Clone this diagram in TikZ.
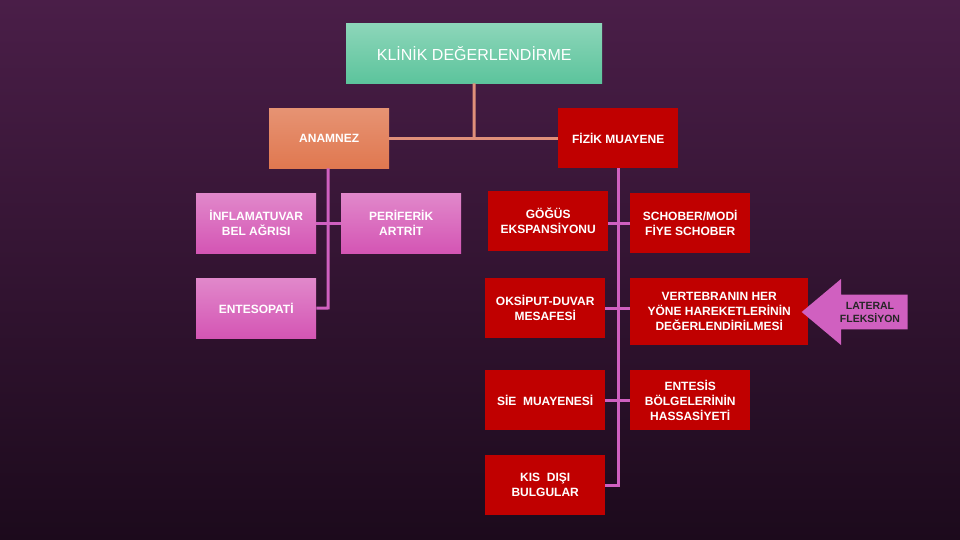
\documentclass[tikz,border=0pt]{standalone}
\usepackage{fontspec}
\setmainfont{Liberation Sans}
\usetikzlibrary{shapes.arrows}
\definecolor{bgA}{HTML}{4A1E48}
\definecolor{bgB}{HTML}{1C0A1C}
\definecolor{teal}{HTML}{5CC49C}
\definecolor{orng}{HTML}{E07850}
\definecolor{rd}{HTML}{C00000}
\definecolor{pk}{HTML}{D455B4}
\definecolor{ln1}{HTML}{E0907A}
\definecolor{ln2}{HTML}{D060C0}
\begin{document}
\begin{tikzpicture}[x=1pt,y=-1pt,
 bx/.style={anchor=north west,minimum width=120pt,minimum height=60pt,inner sep=2pt,align=center,text=white,font=\bfseries\fontsize{12}{15}\selectfont},
 redb/.style={bx,fill=rd},
 pinkb/.style={bx,top color=pk!70!white,bottom color=pk},
 l1/.style={draw=ln1,line width=3pt},
 l2/.style={draw=ln2,line width=3pt}]
\shade[top color=bgA,bottom color=bgB] (0,0) rectangle (960,540);
\useasboundingbox (0,0) rectangle (960,540);
\node[bx,minimum width=256pt,top color=teal!70!white,bottom color=teal,font=\fontsize{16}{18}\selectfont] (t) at (346,23) {KLİNİK DEĞERLENDİRME};
\node[bx,top color=orng!80!white,bottom color=orng] (an) at (269,108) {ANAMNEZ};
\node[redb] (fm) at (558,108) {FİZİK MUAYENE};
\node[pinkb] (inf) at (196,193) {İNFLAMATUVAR\\BEL AĞRISI};
\node[pinkb] (per) at (341,193) {PERİFERİK\\ARTRİT};
\node[pinkb] (ent) at (196,278) {ENTESOPATİ};
\node[redb] (gog) at (488,191) {GÖĞÜS\\EKSPANSİYONU};
\node[redb] (sch) at (630,193) {SCHOBER/MODİ\\FİYE SCHOBER};
\node[redb] (oks) at (485,278) {OKSİPUT-DUVAR\\MESAFESİ};
\node[redb,minimum width=178pt,minimum height=67pt] (ver) at (630,278) {VERTEBRANIN HER\\YÖNE HAREKETLERİNİN\\DEĞERLENDİRİLMESİ};
\node[redb] (sie) at (485,370) {SİE\ \ MUAYENESİ};
\node[redb] (ents) at (630,370) {ENTESİS\\BÖLGELERİNİN\\HASSASİYETİ};
\node[redb] (kis) at (485,455) {KIS\ \ DIŞI\\BULGULAR};
\coordinate (j1) at (474,138);
\draw[l1] (t.south) -- (j1);
\draw[l1] (an.east) -- (fm.west);
\coordinate (a1) at (328,168); \coordinate (a2) at (328,308);
\draw[l2] (an.south -| a1) -- (a2) -- (ent.east);
\draw[l2] (inf.east) -- (per.west);
\coordinate (f2) at (618,485);
\draw[l2] (fm.south -| f2) -- (f2) -- (kis.east |- f2);
\draw[l2] (sch.west) -- (sch.west -| gog.east);
\draw[l2] (oks.east) -- (oks.east -| ver.west);
\draw[l2] (sie.east) -- (ents.west);
\node[single arrow,shape border rotate=180,fill=ln2,minimum height=106pt,minimum width=66pt,single arrow head extend=13pt,single arrow tip angle=80,inner sep=4pt,align=center,font=\bfseries\fontsize{10.5}{13}\selectfont,text=black!85] (lat) at (865,312) {\hspace*{10pt}LATERAL\\\hspace*{10pt}FLEKSİYON};
\end{tikzpicture}
\end{document}
